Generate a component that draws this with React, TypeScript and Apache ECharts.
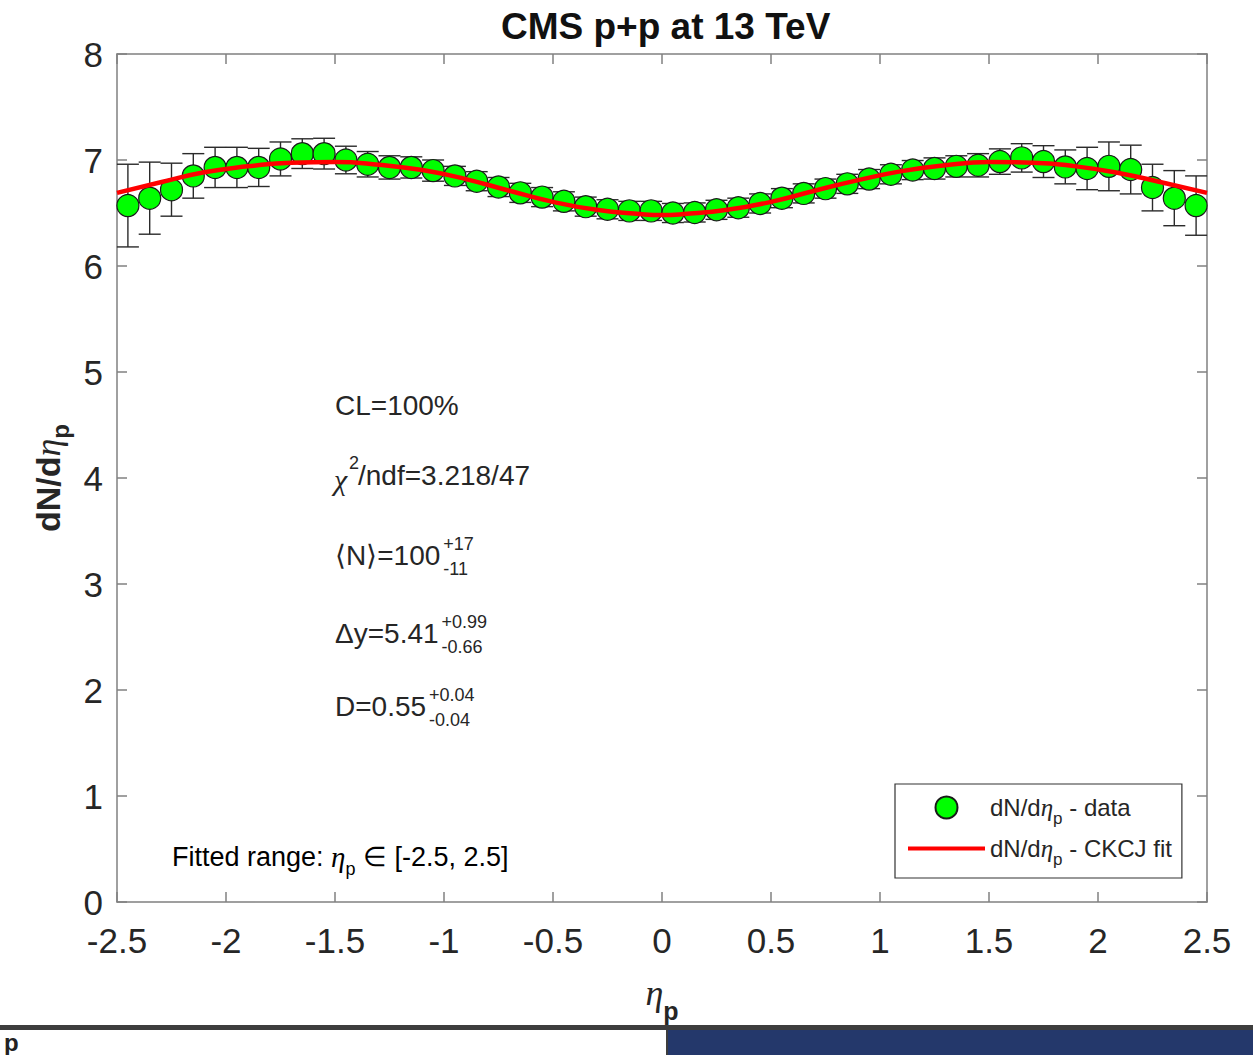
import React, { useEffect, useRef } from "react";
import * as echarts from "echarts";

// pseudorapidity bin centres
const etaValues = [
  -2.45, -2.35, -2.25, -2.15, -2.05, -1.95, -1.85, -1.75, -1.65, -1.55,
  -1.45, -1.35, -1.25, -1.15, -1.05, -0.95, -0.85, -0.75, -0.65, -0.55,
  -0.45, -0.35, -0.25, -0.15, -0.05, 0.05, 0.15, 0.25, 0.35, 0.45,
  0.55, 0.65, 0.75, 0.85, 0.95, 1.05, 1.15, 1.25, 1.35, 1.45,
  1.55, 1.65, 1.75, 1.85, 1.95, 2.05, 2.15, 2.25, 2.35, 2.45,
];
// dN/deta_p data
const dNdEta = [
  6.57, 6.64, 6.72, 6.85, 6.93, 6.93, 6.93, 7.01, 7.06, 7.06,
  7.0, 6.96, 6.93, 6.93, 6.9, 6.85, 6.8, 6.745, 6.69, 6.65,
  6.61, 6.56, 6.535, 6.52, 6.52, 6.5, 6.505, 6.53, 6.55, 6.59,
  6.64, 6.685, 6.73, 6.775, 6.82, 6.865, 6.905, 6.92, 6.94, 6.95,
  6.985, 7.02, 6.985, 6.935, 6.92, 6.94, 6.91, 6.74, 6.64, 6.57,
];
// symmetric errors
const dNdEtaErr = [
  0.39, 0.34, 0.25, 0.21, 0.19, 0.19, 0.18, 0.16, 0.14, 0.145,
  0.13, 0.12, 0.11, 0.1, 0.1, 0.09, 0.09, 0.09, 0.09, 0.09,
  0.09, 0.09, 0.09, 0.09, 0.09, 0.09, 0.09, 0.09, 0.09, 0.09,
  0.09, 0.09, 0.09, 0.09, 0.09, 0.09, 0.09, 0.1, 0.1, 0.11,
  0.12, 0.134, 0.15, 0.16, 0.2, 0.23, 0.23, 0.22, 0.26, 0.28,
];
// CKCJ fit curve
const fitEta = [
  -2.5, -2.3, -2.1, -1.9, -1.7, -1.5, -1.3, -1.1, -0.9, -0.7, -0.5, -0.3, -0.1, 0,
  0.1, 0.3, 0.5, 0.7, 0.9, 1.1, 1.3, 1.5, 1.7, 1.9, 2.1, 2.3, 2.5,
];
const fitValues = [
  6.69, 6.79, 6.885, 6.94, 6.975, 6.98, 6.955, 6.905, 6.82, 6.71, 6.605, 6.53, 6.49, 6.48,
  6.49, 6.53, 6.605, 6.71, 6.81, 6.895, 6.95, 6.98, 6.975, 6.94, 6.875, 6.785, 6.69,
];

const DATA_NAME = "dN/dη_p - data";
const FIT_NAME = "dN/dη_p - CKCJ fit";

const SANS = "'Liberation Sans', Arial, Helvetica, sans-serif";
const SERIF = "'Liberation Serif', 'DejaVu Serif', 'Times New Roman', serif";
const TXT = "#262626";
const AXIS = "#808080";
const ANN_SIZE = 28;

function textWidth(text: string, fontSize: number) {
  const t = new (echarts.graphic as any).Text({ style: { text, fontFamily: SANS, fontSize } });
  return t.getBoundingRect().width;
}

function annotation(x: number, y: number, main: string, sup: string, sub: string) {
  const supX = x + textWidth(main, ANN_SIZE) + 3;
  return [
    { type: "text", x, y, style: { text: main, fontFamily: SANS, fontSize: ANN_SIZE, fill: TXT, verticalAlign: "middle" } },
    { type: "text", x: supX, y: y - 11, style: { text: sup, fontFamily: SANS, fontSize: 18, fill: TXT, verticalAlign: "middle" } },
    { type: "text", x: supX, y: y + 14, style: { text: sub, fontFamily: SANS, fontSize: 18, fill: TXT, verticalAlign: "middle" } },
  ];
}

export default function App() {
  const ref = useRef<HTMLDivElement>(null);
  useEffect(() => {
    document.body.style.margin = "0";
    const chart = echarts.init(ref.current!, null, { renderer: "svg" });
    const points = etaValues.map((e, i) => [e, dNdEta[i], dNdEtaErr[i]]);
    const fit = fitEta.map((e, i) => [e, fitValues[i]]);

    const legendRich = {
      a: { fontFamily: SANS, fontSize: 24, color: TXT, lineHeight: 28 },
      e: { fontFamily: SERIF, fontStyle: "italic", fontSize: 25, color: TXT, lineHeight: 28 },
      s: { fontFamily: SANS, fontSize: 17, color: TXT, lineHeight: 17, padding: [22, 0, 0, 0] },
    };

    const option: any = {
      animation: false,
      backgroundColor: "#ffffff",
      title: {
        text: "CMS p+p at 13 TeV",
        left: 496,
        top: 3,
        textStyle: { fontFamily: SANS, fontSize: 37, fontWeight: "bold", color: "#111" },
      },
      grid: { left: 117, right: 46, top: 54, bottom: 153 },
      legend: {
        orient: "vertical",
        left: 895,
        top: 784,
        backgroundColor: "#fff",
        borderColor: "#333",
        borderWidth: 1.2,
        borderRadius: 0,
        padding: [4, 10, 10, 13],
        itemGap: 2,
        itemWidth: 77,
        itemHeight: 22,
        data: [
          { name: DATA_NAME, icon: "circle" },
          { name: FIT_NAME, icon: "path://M0,0L77,0L77,4L0,4Z" },
        ],
        formatter: (name: string) =>
          name === DATA_NAME ? "{a|dN/d}{e|η}{s|p}{a| - data}" : "{a|dN/d}{e|η}{s|p}{a| - CKCJ fit}",
        textStyle: { rich: legendRich },
      },
      xAxis: [
        {
          type: "value",
          min: -2.5,
          max: 2.5,
          interval: 0.5,
          name: "{e|η}{s|p}",
          nameLocation: "middle",
          nameGap: 70,
          nameTextStyle: {
            rich: {
              e: { fontFamily: SERIF, fontStyle: "italic", fontSize: 36, color: TXT, lineHeight: 36 },
              s: { fontFamily: SANS, fontWeight: "bold", fontSize: 25, color: TXT, lineHeight: 25, padding: [36, 0, 0, 0] },
            },
          },
          axisLine: { show: true, onZero: false, lineStyle: { color: AXIS, width: 1.5 } },
          axisTick: { inside: true, length: 10, lineStyle: { color: AXIS, width: 1.5 } },
          axisLabel: { fontFamily: SANS, fontSize: 35, color: TXT, margin: 23, lineHeight: 30 },
          splitLine: { show: false },
        },
        {
          type: "value",
          position: "top",
          min: -2.5,
          max: 2.5,
          interval: 0.5,
          axisLine: { show: true, onZero: false, lineStyle: { color: AXIS, width: 1.5 } },
          axisTick: { inside: true, length: 10, lineStyle: { color: AXIS, width: 1.5 } },
          axisLabel: { show: false },
          splitLine: { show: false },
        },
      ],
      yAxis: [
        {
          type: "value",
          min: 0,
          max: 8,
          interval: 1,
          name: "{b|dN/d}{e|η}{s|p}",
          nameLocation: "middle",
          nameRotate: 90,
          nameGap: 46,
          nameTextStyle: {
            rich: {
              b: { fontFamily: SANS, fontWeight: "bold", fontSize: 34, color: TXT, lineHeight: 36 },
              e: { fontFamily: SERIF, fontStyle: "italic", fontSize: 36, color: TXT, lineHeight: 36 },
              s: { fontFamily: SANS, fontWeight: "bold", fontSize: 24, color: TXT, lineHeight: 24, padding: [26, 0, 0, 0] },
            },
          },
          axisLine: { show: true, onZero: false, lineStyle: { color: AXIS, width: 1.5 } },
          axisTick: { inside: true, length: 10, lineStyle: { color: AXIS, width: 1.5 } },
          axisLabel: { fontFamily: SANS, fontSize: 35, color: TXT, margin: 14, lineHeight: 30 },
          splitLine: { show: false },
        },
        {
          type: "value",
          position: "right",
          min: 0,
          max: 8,
          interval: 1,
          axisLine: { show: true, onZero: false, lineStyle: { color: AXIS, width: 1.5 } },
          axisTick: { inside: true, length: 10, lineStyle: { color: AXIS, width: 1.5 } },
          axisLabel: { show: false },
          splitLine: { show: false },
        },
      ],
      series: [
        {
          name: "errors",
          type: "custom",
          xAxisIndex: 0,
          yAxisIndex: 0,
          z: 2,
          data: points,
          encode: { x: 0, y: 1 },
          renderItem: (_params: any, api: any) => {
            const x = api.value(0);
            const y = api.value(1);
            const e = api.value(2);
            const top = api.coord([x, y + e]);
            const bot = api.coord([x, y - e]);
            const w = 11;
            const st = { stroke: "#2b2b2b", lineWidth: 1.4 };
            return {
              type: "group",
              children: [
                { type: "line", shape: { x1: top[0], y1: top[1], x2: bot[0], y2: bot[1] }, style: st },
                { type: "line", shape: { x1: top[0] - w, y1: top[1], x2: top[0] + w, y2: top[1] }, style: st },
                { type: "line", shape: { x1: bot[0] - w, y1: bot[1], x2: bot[0] + w, y2: bot[1] }, style: st },
              ],
            };
          },
        },
        {
          name: DATA_NAME,
          type: "scatter",
          z: 3,
          symbol: "circle",
          symbolSize: 22,
          data: points.map((p) => [p[0], p[1]]),
          itemStyle: { color: "#00ff00", borderColor: "#1a1a1a", borderWidth: 1.2, opacity: 1 },
        },
        {
          name: FIT_NAME,
          type: "line",
          z: 4,
          smooth: 0.5,
          symbol: "none",
          showSymbol: false,
          data: fit,
          lineStyle: { color: "#ff0000", width: 4.5 },
          itemStyle: { color: "#ff0000" },
        },
      ],
      graphic: [
        { type: "text", x: 335, y: 405, style: { text: "CL=100%", fontFamily: SANS, fontSize: ANN_SIZE, fill: TXT, verticalAlign: "middle" } },
        { type: "text", x: 334, y: 479, style: { text: "χ", fontFamily: SERIF, fontStyle: "italic", fontSize: 30, fill: TXT, verticalAlign: "middle" } },
        { type: "text", x: 349, y: 463, style: { text: "2", fontFamily: SANS, fontSize: 18, fill: TXT, verticalAlign: "middle" } },
        { type: "text", x: 358, y: 475, style: { text: "/ndf=3.218/47", fontFamily: SANS, fontSize: ANN_SIZE, fill: TXT, verticalAlign: "middle" } },
        ...annotation(335, 555, "⟨N⟩=100", "+17", "-11"),
        ...annotation(335, 633, "Δy=5.41", "+0.99", "-0.66"),
        ...annotation(335, 706, "D=0.55", "+0.04", "-0.04"),
        {
          type: "text",
          x: 172,
          y: 857,
          style: {
            text: "{a|Fitted range: }{e|η}{s|p}{a| ∈ [-2.5, 2.5]}",
            verticalAlign: "middle",
            rich: {
              a: { fontFamily: SANS, fontSize: 27, color: TXT, lineHeight: 30 },
              e: { fontFamily: SERIF, fontStyle: "italic", fontSize: 29, color: TXT, lineHeight: 30 },
              s: { fontFamily: SANS, fontSize: 18, color: TXT, lineHeight: 18, padding: [24, 0, 0, 0] },
            },
          },
        },
        // screenshot strip at the bottom
        { type: "rect", shape: { x: 0, y: 1025, width: 1253, height: 5 }, style: { fill: "#3d3d3d" } },
        { type: "rect", shape: { x: 668, y: 1030, width: 585, height: 25 }, style: { fill: "#24386b" } },
        { type: "rect", shape: { x: 666, y: 1025, width: 2, height: 30 }, style: { fill: "#3d3d3d" } },
        { type: "text", x: 4, y: 1054, style: { text: "p", fontFamily: SANS, fontWeight: "bold", fontSize: 24, fill: "#222", verticalAlign: "bottom" } },
      ],
    };
    chart.setOption(option);
    return () => chart.dispose();
  }, []);
  return (
    <div
      ref={ref}
      style={{ position: "absolute", left: 0, top: 0, width: 1253, height: 1055, background: "#fff" }}
    />
  );
}
